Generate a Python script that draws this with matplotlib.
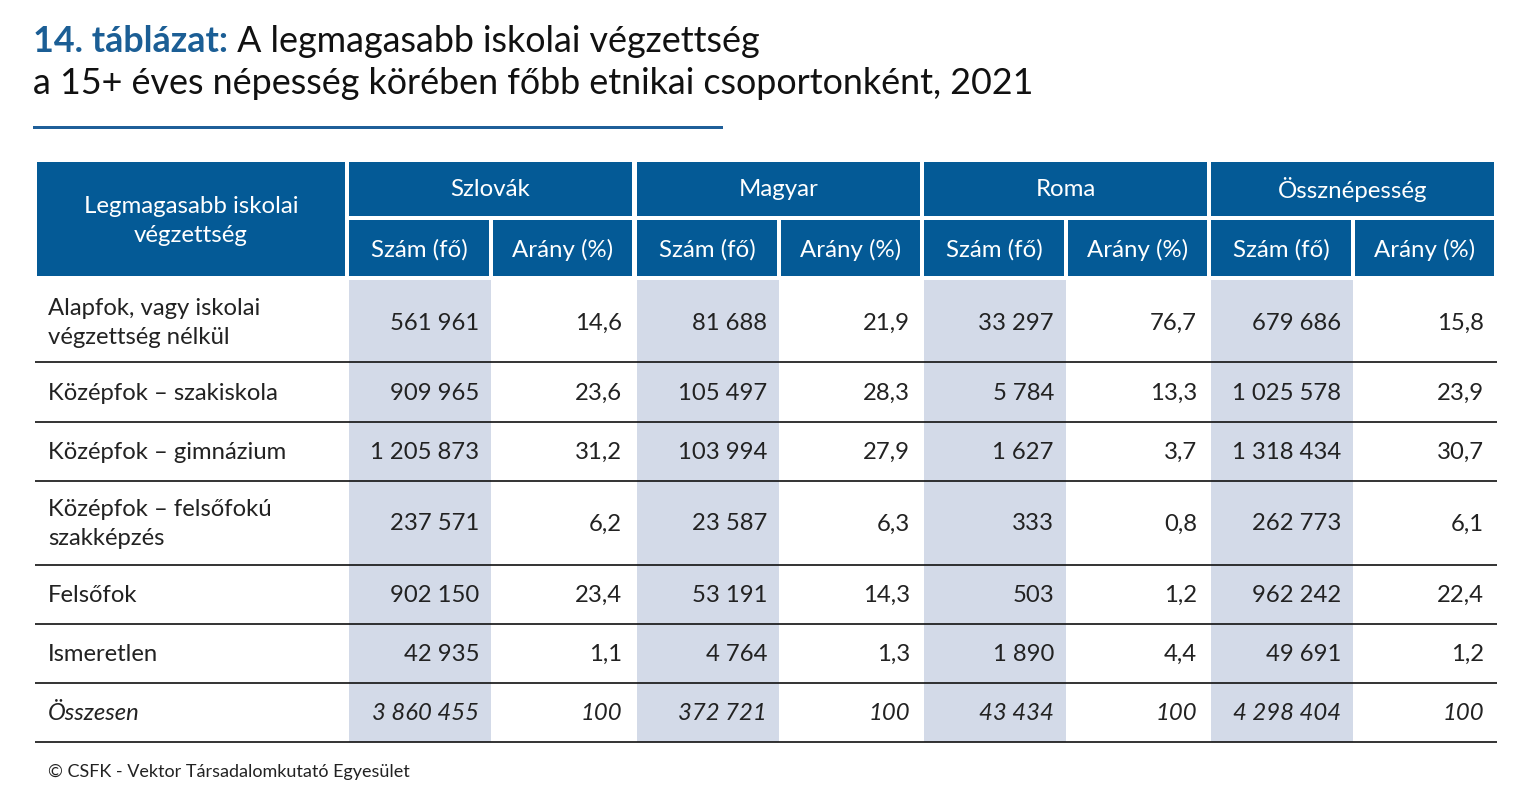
import matplotlib
matplotlib.use("Agg")
import matplotlib.pyplot as plt
from matplotlib.patches import Rectangle

FONT = ["Lato", "DejaVu Sans"]
plt.rcParams['font.family'] = FONT

# ---- data ----
title_num = "14. táblázat:"
title_rest1 = " A legmagasabb iskolai végzettség"
title_line2 = "a 15+ éves népesség körében főbb etnikai csoportonként, 2021"
row_header = "Legmagasabb iskolai\nvégzettség"
groups = ["Szlovák", "Magyar", "Roma", "Össznépesség"]
subcols = ["Szám (fő)", "Arány (%)"]
categories = ["Alapfok, vagy iskolai\nvégzettség nélkül",
              "Középfok – szakiskola",
              "Középfok – gimnázium",
              "Középfok – felsőfokú\nszakképzés",
              "Felsőfok",
              "Ismeretlen",
              "Összesen"]
szlovak_n = [561961, 909965, 1205873, 237571, 902150, 42935, 3860455]
szlovak_p = ["14,6", "23,6", "31,2", "6,2", "23,4", "1,1", "100"]
magyar_n = [81688, 105497, 103994, 23587, 53191, 4764, 372721]
magyar_p = ["21,9", "28,3", "27,9", "6,3", "14,3", "1,3", "100"]
roma_n = [33297, 5784, 1627, 333, 503, 1890, 43434]
roma_p = ["76,7", "13,3", "3,7", "0,8", "1,2", "4,4", "100"]
ossz_n = [679686, 1025578, 1318434, 262773, 962242, 49691, 4298404]
ossz_p = ["15,8", "23,9", "30,7", "6,1", "22,4", "1,2", "100"]
footer = "© CSFK - Vektor Társadalomkutató Egyesület"

series = [(szlovak_n, szlovak_p), (magyar_n, magyar_p), (roma_n, roma_p), (ossz_n, ossz_p)]

def fmt(n):
    return f"{n:,}".replace(",", "\u2005")

# ---- layout (pixels) ----
W, H = 1539, 785
BLUE = "#045a96"
TITLE_BLUE = "#1b5e95"
SHADE = "#d3dae8"
TXT = "#222222"
TS = 25.8
HS = 17.3
DS = 17.2

fig = plt.figure(figsize=(W / 100, H / 100), dpi=100)
ax = fig.add_axes([0, 0, 1, 1])
ax.set_xlim(0, W)
ax.set_ylim(H, 0)
ax.axis("off")

# title
t1 = ax.text(33, 41, title_num, fontsize=TS, color=TITLE_BLUE, fontweight="bold",
             va="center", ha="left")
fig.canvas.draw()
r = fig.canvas.get_renderer()
bb = t1.get_window_extent(renderer=r)
ax.text(bb.x1, 41, title_rest1, fontsize=TS, color="#111111", va="center", ha="left")
ax.text(33, 83, title_line2, fontsize=TS, color="#111111", va="center", ha="left")
ax.add_patch(Rectangle((33, 125.5), 690, 3.5, color="#1f5f99", lw=0))

# header
hdr_top, hdr_mid1, hdr_mid2, hdr_bot = 162, 216, 220, 276
ax.add_patch(Rectangle((37, hdr_top), 308, hdr_bot - hdr_top, color=BLUE, lw=0))
ax.text(191, 221, row_header, color="white", fontsize=HS, ha="center", va="center",
        linespacing=1.42)
group_x = [349, 637, 924, 1211]
group_w = 283
sub_w = 140
for gi, g in enumerate(groups):
    gx = group_x[gi]
    ax.add_patch(Rectangle((gx, hdr_top), group_w, hdr_mid1 - hdr_top, color=BLUE, lw=0))
    ax.text(gx + group_w / 2, 190, g, color="white", fontsize=HS, ha="center", va="center")
    for si, s in enumerate(subcols):
        sx = gx + si * (sub_w + 4)
        w = sub_w if si == 0 else group_w - sub_w - 4
        ax.add_patch(Rectangle((sx, hdr_mid2), w, hdr_bot - hdr_mid2, color=BLUE, lw=0))
        ax.text(sx + w / 2, 250, s, color="white", fontsize=HS, ha="center", va="center")

# body
row_edges = [280, 362, 422, 481, 565, 624, 683, 742]
for gi in range(4):
    ax.add_patch(Rectangle((group_x[gi], row_edges[0]), 142, row_edges[-1] - row_edges[0],
                           color=SHADE, lw=0))
for y in row_edges[1:]:
    ax.plot([35, 1497], [y, y], color="#111111", lw=1.2, solid_capstyle="butt")

for ri, cat in enumerate(categories):
    yc = (row_edges[ri] + row_edges[ri + 1]) / 2
    if ri == 0:
        yc += 1
    style = "italic" if ri == len(categories) - 1 else "normal"
    ax.text(48, yc + 1, cat, fontsize=DS, color=TXT, ha="left", va="center",
            fontstyle=style, linespacing=1.42)
    for gi, (nums, pcts) in enumerate(series):
        gx = group_x[gi]
        ax.text(gx + 130, yc + 1, fmt(nums[ri]), fontsize=DS, color=TXT, ha="right",
                va="center", fontstyle=style)
        ax.text(gx + group_w - 10, yc + 1, pcts[ri], fontsize=DS, color=TXT, ha="right",
                va="center", fontstyle=style)

ax.text(48, 772, footer, fontsize=13, color=TXT, ha="left", va="center")

fig.savefig("out.png", dpi=100)
